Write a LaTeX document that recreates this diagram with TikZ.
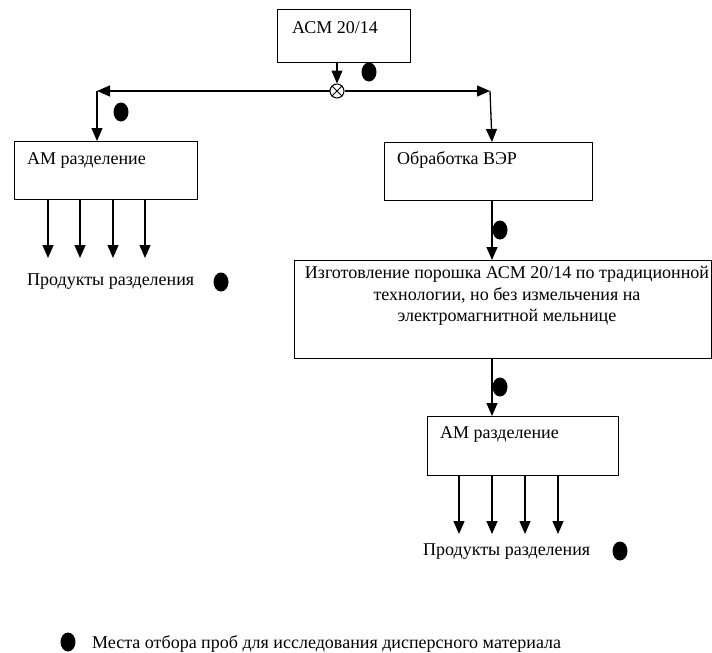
\documentclass[tikz,border=0pt]{standalone}
\usepackage{fontspec}
\setmainfont{Liberation Serif}
\usetikzlibrary{arrows.meta,positioning,shapes.geometric}
\tikzset{
  box/.style={draw, line width=1.2pt, rectangle, inner sep=0pt, anchor=north west},
  lbl/.style={inner sep=0pt, font=\fontsize{18}{21.5}\selectfont},
  arr/.style={line width=1.3pt, -{Triangle[length=13pt,width=11pt]}},
  sdot/.style={fill=black, ellipse, minimum width=15pt, minimum height=19pt, inner sep=0pt},
}
\begin{document}
\begin{tikzpicture}[x=1pt,y=-1pt]
\useasboundingbox (0,0) rectangle (712,653);
% top box
\node[box, minimum width=133pt, minimum height=53pt] (top) at (277,9) {};
\node[lbl, anchor=west] (topt) at (292,28) {АСМ 20/14};
% mixer circle
\node[draw, circle, line width=1pt, minimum size=14pt, inner sep=0pt] (mix) at (337,91) {};
\draw[line width=0.8pt] (mix.north west) -- (mix.south east) (mix.north east) -- (mix.south west);
\coordinate (topout) at (337,62);
\draw[arr] (topout) -- (mix.north);
% horizontal distribution
\coordinate (lc) at (97,91);
\coordinate (rc) at (490,91);
\draw[arr] (mix.west) -- (lc);
\draw[arr] (mix.east) -- (rc);
% left AM box
\node[box, minimum width=183pt, minimum height=58pt] (am1) at (14,141) {};
\node[lbl, anchor=west] (am1t) at (27,160) {АМ разделение};
\coordinate (am1in) at (97,141);
\draw[arr] (lc) -- (am1in);
% left products
\foreach \x [count=\i] in {48,80,113,145}{
  \coordinate (a1s\i) at (\x,199);
  \coordinate (a1e\i) at (\x,258);
  \draw[arr] (a1s\i) -- (a1e\i);
}
\node[lbl, anchor=west] (prod1) at (27,282) {Продукты разделения};
\node[sdot] (d3) at (221,282) {};
% right box
\node[box, minimum width=208pt, minimum height=58pt] (ver) at (384,142) {};
\node[lbl, anchor=west] (vert) at (397,160) {Обработка ВЭР};
\coordinate (verin) at (492,142);
\draw[arr] (rc) -- (verin);
% big box
\node[box, minimum width=417pt, minimum height=98pt] (big) at (294,260) {};
\node[lbl, align=center] (bigt) at (507,296) {Изготовление порошка АСМ 20/14 по традиционной\\технологии, но без измельчения на\\электромагнитной мельнице};
\coordinate (verout) at (492,200);
\coordinate (bigin) at (492,260);
\draw[arr] (verout) -- (bigin);
% second AM box
\node[box, minimum width=191pt, minimum height=59pt] (am2) at (427,416) {};
\node[lbl, anchor=west] (am2t) at (440,434) {АМ разделение};
\coordinate (bigout) at (492,358);
\coordinate (am2in) at (492,416);
\draw[arr] (bigout) -- (am2in);
\foreach \x [count=\i] in {459,492,525,558}{
  \coordinate (a2s\i) at (\x,475);
  \coordinate (a2e\i) at (\x,534);
  \draw[arr] (a2s\i) -- (a2e\i);
}
\node[lbl, anchor=west] (prod2) at (423,552) {Продукты разделения};
\node[sdot] (d6) at (620,551) {};
% sampling dots
\node[sdot] (d1) at (369,72) {};
\node[sdot] (d2) at (121,112) {};
\node[sdot] (d4) at (500,230) {};
\node[sdot] (d5) at (500,387) {};
% legend
\node[sdot] (dl) at (68,642) {};
\node[lbl, anchor=west] (leg) at (92,644) {Места отбора проб для исследования дисперсного материала};
\end{tikzpicture}
\end{document}
